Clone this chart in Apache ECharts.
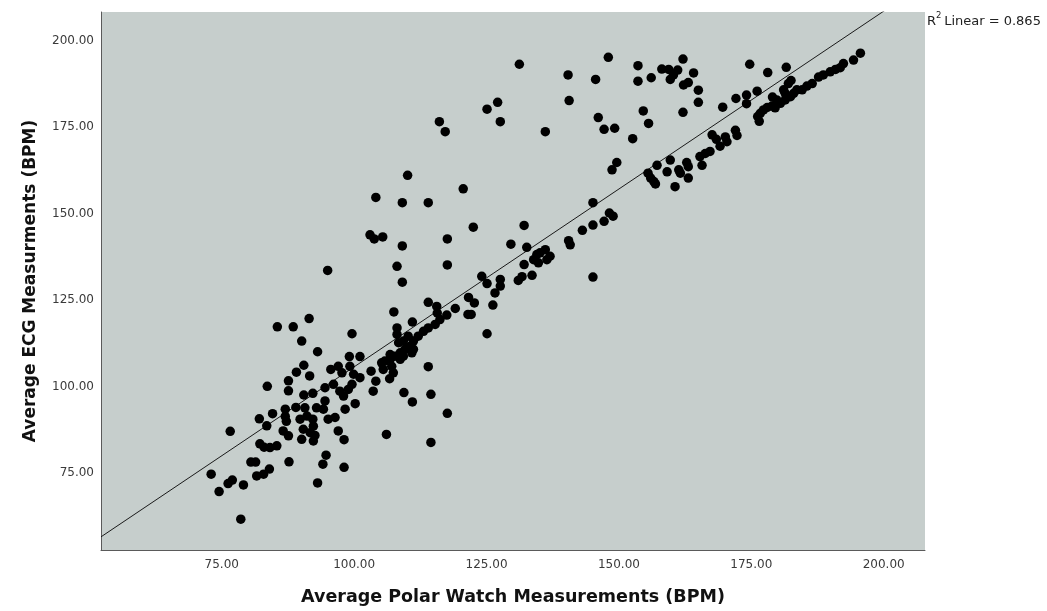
<!DOCTYPE html>
<html>
<head>
<meta charset="utf-8">
<script src="https://cdn.jsdelivr.net/npm/echarts@6/dist/echarts.min.js"></script>
<style>
html,body{margin:0;padding:0;background:#fff;}
#chart{width:1047px;height:611px;}
</style>
</head>
<body>
<div id="chart"></div>
<script>
// Axis titles and tick values
var xTitle = 'Average Polar Watch Measurements (BPM)';
var yTitle = 'Average ECG Measurments (BPM)';
var tickValues = [75, 100, 125, 150, 175, 200];
var xRange = [52.2, 207.8];
var yRange = [52.8, 208.3];
// Linear fit
var fitIntercept = 2.94;
var fitSlope = 1.028;
var r2Text = ' Linear = 0.865';

// [Polar watch, ECG] pairs, grouped by region of the plot
var lowCluster = [
[73.0,74.7],[74.5,69.7],[76.2,72.0],[77.0,73.0],[79.1,71.6],[78.6,61.7],[76.6,87.1],[80.5,78.2],
[81.4,78.2],[81.6,74.2],[82.9,74.7],[84.0,76.2],[82.1,90.7],[83.5,88.7],[83.6,100.1],[84.6,92.2],
[82.2,83.5],[83.0,82.5],[84.1,82.4],[85.4,82.9],[85.5,117.3],[88.5,117.3],[87.6,101.7],[87.6,98.8],
[87.0,93.5],[87.0,91.4],[87.2,90.0],[89.0,94.0],[86.6,87.2],[87.6,85.8],[87.7,78.3],[89.1,104.2]
];
var midCluster = [
[91.5,119.7],[90.1,113.2],[93.1,110.1],[99.6,115.3],[99.1,108.7],[101.1,108.7],[90.5,106.2],[91.6,103.1],
[95.6,105.0],[97.0,105.9],[97.7,104.0],[99.2,105.9],[99.9,103.6],[101.1,102.6],[103.2,104.5],[104.1,101.6],
[106.7,102.3],[103.6,98.7],[109.4,98.3],[111.0,95.6],[106.1,86.2],[90.5,97.6],[92.2,98.1],[94.5,99.7],
[96.1,100.7],[97.3,98.7],[98.0,97.3],[98.9,99.2],[99.6,100.7],[100.2,95.1],[98.3,93.5],[94.5,95.9],
[94.2,93.5],[92.9,93.9],[96.4,91.1],[95.1,90.6],[90.7,93.9],[91.1,91.5],[89.8,90.6],[92.2,90.6],
[92.3,88.6],[91.7,86.7],[90.4,87.7],[90.1,84.8],[92.6,85.9],[97.0,87.2],[98.1,84.7],[94.7,80.2],
[94.1,77.6],[98.1,76.7],[93.1,72.2],[92.3,84.3],[105.5,105.0]
];
var lineCluster = [
[107.5,121.6],[108.1,117.0],[108.1,115.1],[111.0,118.7],[114.0,117.0],[113.1,116.0],[112.1,114.6],[111.2,113.2],
[110.6,111.7],[109.6,110.8],[108.7,109.8],[107.7,108.8],[106.8,107.9],[105.8,107.4],[105.2,106.9],[110.2,114.6],
[109.3,113.2],[108.4,112.7],[111.2,110.8],[110.9,109.8],[109.3,108.8],[108.7,107.9],[106.8,109.3],[107.1,105.9],
[107.4,104.0],[114.0,105.8],[114.5,97.8],[117.6,92.3],[114.5,83.9],[114.0,124.4],[115.6,123.2],[115.7,121.3],
[117.5,120.7],[116.2,119.4],[115.3,118.0],[119.1,122.6],[121.6,125.8],[122.7,124.2],[121.5,120.9],[122.1,120.9],
[126.2,123.6],[125.1,115.3],[124.1,131.9],[125.1,129.8],[127.6,131.0],[127.6,129.1],[126.6,127.1],[131.0,130.7],
[131.7,131.8],[133.6,132.2],[132.1,135.3],[134.5,138.2],[135.1,138.7],[136.1,139.6],[137.0,137.7],[134.8,135.8],
[133.9,136.7],[136.4,136.7],[129.6,141.2],[132.6,140.3],[140.5,142.2],[140.8,141.0],[143.1,145.2],[145.1,146.7],
[147.2,147.8],[148.2,150.2],[148.9,149.3],[145.1,153.2],[145.1,131.7],[149.6,164.8],[148.7,162.7]
];
var upperScatter = [
[132.1,146.6],[122.5,146.1],[117.6,142.7],[109.1,140.7],[108.1,134.8],[117.6,135.2],[109.1,130.2],[95.0,133.6],
[103.0,143.9],[103.8,142.7],[105.4,143.3],[104.1,154.7],[109.1,153.2],[114.0,153.2],[110.1,161.1],[120.6,157.2],
[116.1,176.6],[117.2,173.7],[125.1,180.2],[127.1,182.2],[127.6,176.6],[136.1,173.7],[140.6,182.7],[131.2,193.2],
[140.4,190.1],[146.1,177.8],[147.2,174.4],[149.2,174.7],[152.6,171.7],[154.6,179.7],[155.6,176.1],[145.6,188.8],
[148.0,195.2],[153.6,192.8],[153.6,188.3],[156.1,189.3],[158.1,191.8],[159.4,191.7],[161.1,191.5],[162.1,194.7],
[159.7,188.8],[160.3,190.1],[164.1,190.7],[162.2,187.2],[163.1,187.9],[165.0,185.7],[165.0,182.2],[162.1,179.3],
[174.7,193.2],[178.1,190.8],[181.6,192.3]
];
var highBand = [
[155.5,161.7],[156.0,160.3],[156.6,159.3],[156.9,158.6],[157.2,164.0],[159.7,165.5],[159.1,162.1],[160.6,157.8],
[161.3,162.7],[161.6,161.7],[162.8,164.8],[163.1,163.6],[163.1,160.3],[165.3,166.5],[165.7,164.0],[166.3,167.4],
[167.2,168.0],[167.6,172.8],[168.4,171.5],[169.1,169.5],[170.1,172.2],[170.4,170.8],[172.0,174.1],[172.3,172.6],
[169.6,180.8],[172.1,183.3],[174.1,184.3],[174.1,181.8],[176.1,185.4],[176.5,176.7],[176.2,178.1],[176.7,179.0],
[177.3,180.0],[178.0,180.7],[178.9,181.1],[179.8,182.9],[179.5,180.6],[180.5,181.9],[181.4,182.9],[182.4,183.8],
[181.1,185.8],[181.4,184.8],[182.5,188.5],[182.0,187.6],[183.0,184.8],[183.6,185.8],[184.6,185.8],[185.5,186.9],
[186.5,187.6],[187.7,189.5],[188.6,190.1],[189.9,191.0],[190.9,191.7],[191.8,192.2],[192.4,193.4],[194.3,194.4],
[195.6,196.4],[179.0,183.7]
];

var points = [].concat(lowCluster, midCluster, lineCluster, upperScatter, highBand);
var fitLine = [
  [xRange[0], fitIntercept + fitSlope * xRange[0]],
  [xRange[1], fitIntercept + fitSlope * xRange[1]]
];

var font = 'DejaVu Sans';
var chart = echarts.init(document.getElementById('chart'), null, {renderer: 'canvas'});
chart.setOption({
  animation: false,
  backgroundColor: '#ffffff',
  grid: {
    left: 101, top: 12, right: 122, bottom: 60,
    show: true, backgroundColor: '#c6cecc', borderWidth: 0
  },
  xAxis: {
    type: 'value', min: xRange[0], max: xRange[1],
    name: xTitle, nameLocation: 'middle', nameGap: 38,
    nameTextStyle: {fontFamily: font, fontSize: 17.5, fontWeight: 'bold', color: '#111'},
    axisLine: {show: true, lineStyle: {color: '#5a5a5a', width: 1}},
    axisTick: {show: false},
    splitLine: {show: false},
    axisLabel: {customValues: tickValues, formatter: function(v){return v.toFixed(2);},
      fontFamily: font, fontSize: 12, color: '#3a3a3a', margin: 9}
  },
  yAxis: {
    type: 'value', min: yRange[0], max: yRange[1],
    name: yTitle, nameLocation: 'middle', nameGap: 62,
    nameTextStyle: {fontFamily: font, fontSize: 17, fontWeight: 'bold', color: '#111'},
    axisLine: {show: true, lineStyle: {color: '#5a5a5a', width: 1}},
    axisTick: {show: false},
    splitLine: {show: false},
    axisLabel: {customValues: tickValues, formatter: function(v){return v.toFixed(2);},
      fontFamily: font, fontSize: 12, color: '#3a3a3a', margin: 7}
  },
  graphic: [
    {type: 'text', left: 927, top: 15, style: {text: 'R', fontFamily: font, fontSize: 13, fill: '#222'}},
    {type: 'text', left: 936, top: 11, style: {text: '2', fontFamily: font, fontSize: 8.5, fill: '#222'}},
    {type: 'text', left: 940, top: 15, style: {text: r2Text, fontFamily: font, fontSize: 13, fill: '#222'}}
  ],
  series: [
    {
      type: 'line', data: fitLine, symbol: 'none', clip: true, silent: true,
      lineStyle: {color: '#1a1a1a', width: 1}, z: 1
    },
    {
      type: 'scatter', data: points, symbol: 'circle', symbolSize: 9.5,
      itemStyle: {color: '#000000', opacity: 1}, z: 2
    }
  ]
});
</script>
</body>
</html>
